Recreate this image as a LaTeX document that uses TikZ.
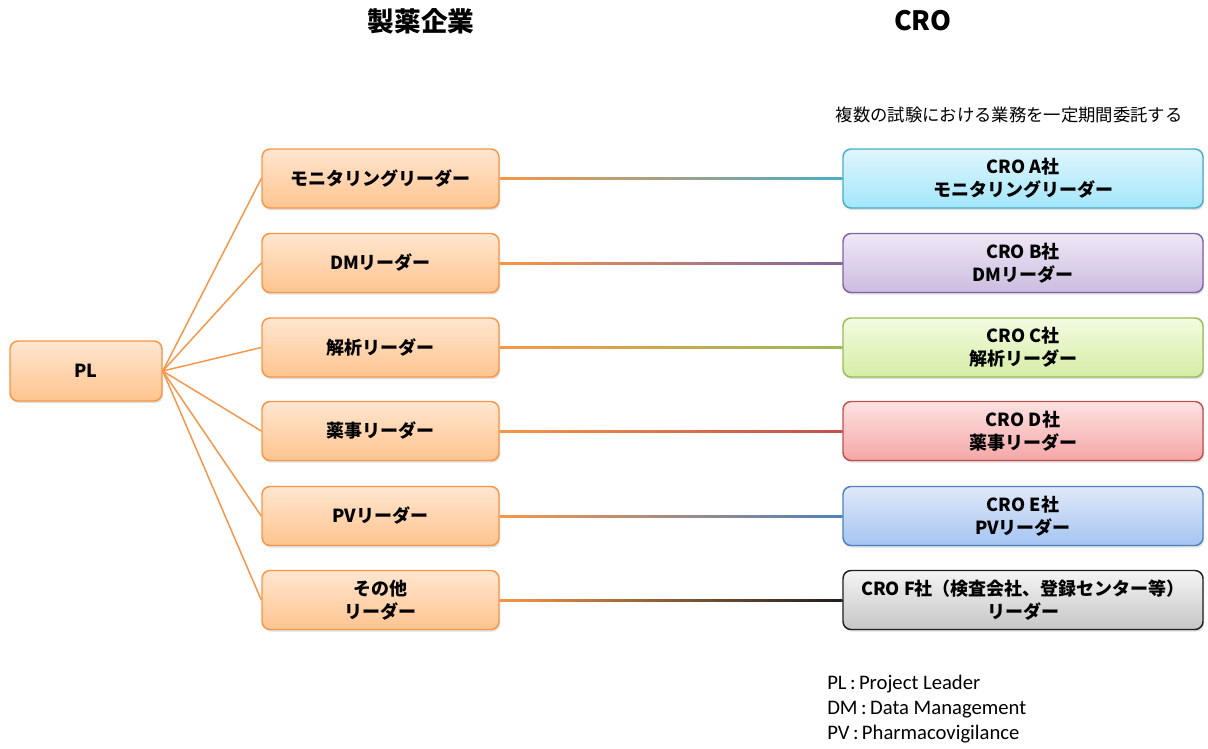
\documentclass[tikz,border=0pt]{standalone}
\usepackage{fontspec}
\setmainfont{Noto Sans CJK JP}
\newfontfamily\jp{Noto Sans CJK JP}
\newfontfamily\legendfont{Carlito}
\usetikzlibrary{calc,shadows}
\definecolor{cor}{HTML}{F79646}
\definecolor{orT}{HTML}{FFE6D0}
\definecolor{orB}{HTML}{FFC48F}
\definecolor{cA}{HTML}{4BACC6}\definecolor{aT}{HTML}{DFF6FD}\definecolor{aB}{HTML}{A3E6FA}
\definecolor{cB}{HTML}{8064A2}\definecolor{bT}{HTML}{EFE8F6}\definecolor{bB}{HTML}{CBBCE0}
\definecolor{cC}{HTML}{9BBB59}\definecolor{cT}{HTML}{F3FBE0}\definecolor{cBt}{HTML}{D5EDA5}
\definecolor{cD}{HTML}{C0504D}\definecolor{dT}{HTML}{FDE2E2}\definecolor{dB}{HTML}{F5A6A6}
\definecolor{cE}{HTML}{4F81BD}\definecolor{eT}{HTML}{DFE9F9}\definecolor{eB}{HTML}{A6C4F2}
\definecolor{cF}{HTML}{1E1E1E}\definecolor{fT}{HTML}{F4F4F4}\definecolor{fB}{HTML}{C6C6C6}
\tikzset{
  box/.style={rounded corners=6pt, line width=1.1pt, align=center,
    font=\jp\bfseries\fontsize{13.5}{17.5}\selectfont,
    drop shadow={opacity=0.25, shadow xshift=0.8pt, shadow yshift=-1.6pt}},
  leftbox/.style={box, draw=cor, top color=orT, bottom color=orB,
    minimum width=237*0.75pt, minimum height=59*0.75pt},
  plbox/.style={box, draw=cor, top color=orT, bottom color=orB,
    minimum width=152*0.75pt, minimum height=60*0.75pt},
  crobox/.style={box, minimum width=360*0.75pt, minimum height=59*0.75pt},
  fan/.style={draw=cor, line width=1.1pt},
  title/.style={font=\jp\bfseries\fontsize{20}{24}\selectfont},
}
\begin{document}
\begin{tikzpicture}[x=0.75pt,y=-0.75pt]
\useasboundingbox[fill=white] (0,0) rectangle (1208,749);
% titles
\node[title] (t1) at (421,21) {製薬企業};
\node[title] (t2) at (923,21) {CRO};
\node[font=\jp\fontsize{13}{16}\selectfont, anchor=west] (sub) at (831,115) {複数の試験における業務を一定期間委託する};
% PL
\node[plbox] (pl) at (86,371) {PL};
% middle
\node[leftbox] (m1) at (380.5,178.5) {モニタリングリーダー};
\node[leftbox] (m2) at (380.5,263) {DMリーダー};
\node[leftbox] (m3) at (380.5,347.5) {解析リーダー};
\node[leftbox] (m4) at (380.5,431) {薬事リーダー};
\node[leftbox] (m5) at (380.5,516) {PVリーダー};
\node[leftbox] (m6) at (380.5,600) {その他\\リーダー};
% right
\node[crobox, draw=cA, top color=aT, bottom color=aB] (r1) at (1023,178.5) {CRO A社\\モニタリングリーダー};
\node[crobox, draw=cB, top color=bT, bottom color=bB] (r2) at (1023,263) {CRO B社\\DMリーダー};
\node[crobox, draw=cC, top color=cT, bottom color=cBt] (r3) at (1023,347.5) {CRO C社\\解析リーダー};
\node[crobox, draw=cD, top color=dT, bottom color=dB] (r4) at (1023,431) {CRO D社\\薬事リーダー};
\node[crobox, draw=cE, top color=eT, bottom color=eB] (r5) at (1023,516) {CRO E社\\PVリーダー};
\node[crobox, draw=cF, top color=fT, bottom color=fB] (r6) at (1023,600) {CRO F社（検査会社、登録センター等）\\リーダー};
% fan connectors
\foreach \m in {m1,m2,m3,m4,m5,m6}{
  \draw[fan] (pl.east) -- (\m.west);
}
% gradient connectors
\shade[left color=cor, middle color=gray!65, right color=cA] ($(m1.east)+(0,0.75pt)$) rectangle ($(r1.west)+(0,-0.75pt)$);
\shade[left color=cor, middle color=cor!50!cB, right color=cB] ($(m2.east)+(0,0.75pt)$) rectangle ($(r2.west)+(0,-0.75pt)$);
\shade[left color=cor, middle color=cor!50!cC!80!gray, right color=cC] ($(m3.east)+(0,0.75pt)$) rectangle ($(r3.west)+(0,-0.75pt)$);
\shade[left color=cor, middle color=cor!50!cD, right color=cD] ($(m4.east)+(0,0.75pt)$) rectangle ($(r4.west)+(0,-0.75pt)$);
\shade[left color=cor, middle color=gray!65, right color=cE] ($(m5.east)+(0,0.75pt)$) rectangle ($(r5.west)+(0,-0.75pt)$);
\shade[left color=cor, middle color=cor!60!black, right color=cF] ($(m6.east)+(0,0.75pt)$) rectangle ($(r6.west)+(0,-0.75pt)$);
% legend
\node[font=\legendfont\fontsize{15.5}{18.75}\selectfont, anchor=north west, align=left, inner sep=0pt] (leg) at (827,675)
{PL\,:\,Project Leader\\DM\,:\,Data Management\\PV\,:\,Pharmacovigilance};
\end{tikzpicture}
\end{document}
